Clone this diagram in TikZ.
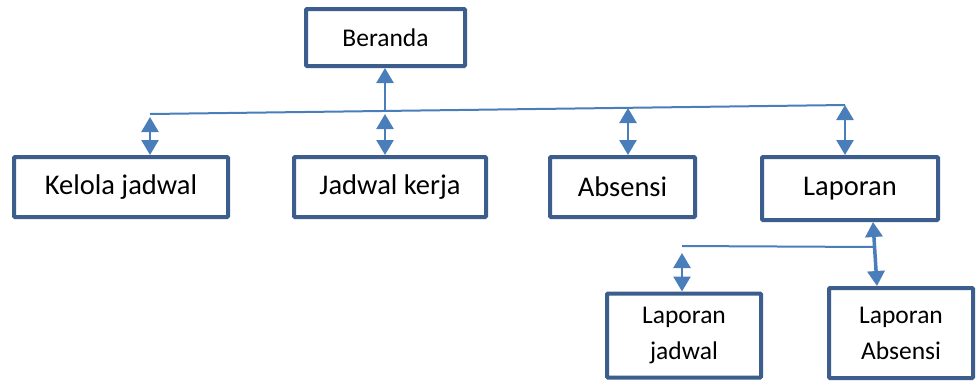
\documentclass[tikz,border=0pt]{standalone}
\usepackage{fontspec}
\setmainfont{Carlito}
\usetikzlibrary{arrows.meta,calc}
\definecolor{kotak}{HTML}{3B5E8C}
\definecolor{panah}{HTML}{4A7EBB}
\tikzset{
  kotak/.style={draw=kotak, line width=4pt, rounded corners=1pt, fill=white, align=center, inner sep=0pt},
  besar/.style={font=\fontsize{28.5}{34}\selectfont},
  kecil/.style={font=\fontsize{25.5}{36}\selectfont},
  garis/.style={draw=panah, line width=2pt},
  ujung/.tip={Triangle[width=17pt,length=15pt]},
  dua/.style={draw=panah, line width=2.5pt, ujung-ujung},
}
\begin{document}
\begin{tikzpicture}[x=1pt,y=-1pt]
  \useasboundingbox (0,0) rectangle (977,381);
  %kotak menu
  \node[kotak,kecil,minimum width=159pt,minimum height=57pt] (beranda) at (385.5,37.5) {Beranda};
  \node[kotak,besar,minimum width=214pt,minimum height=60pt] (kelola) at (121,187) {Kelola jadwal};
  \node[kotak,besar,minimum width=192pt,minimum height=60pt] (jadwalkerja) at (390,187) {Jadwal kerja};
  \node[kotak,besar,minimum width=145pt,minimum height=60pt] (absensi) at (622.5,187) {Absensi};
  \node[kotak,besar,minimum width=176pt,minimum height=63pt] (laporan) at (850,188.5) {Laporan};
  \node[kotak,kecil,minimum width=154pt,minimum height=84pt] (lapjadwal) at (684,335.5) {Laporan\\jadwal};
  \node[kotak,kecil,minimum width=144pt,minimum height=90pt] (lapabsensi) at (901,333) {Laporan\\Absensi};
  %garis
  \coordinate (k) at (150,114);
  \coordinate (b) at (385,111);
  \coordinate (a) at (628,108);
  \coordinate (l) at (845,105);
  \draw[garis] (k) -- (l);
  \draw[dua,-ujung] (b) -- (b |- beranda.south);
  \draw[dua] ([yshift=-3pt]b) -- (b |- jadwalkerja.north);
  \draw[dua] ([yshift=-3pt]k) -- (k |- kelola.north);
  \draw[dua] (a) -- (a |- absensi.north);
  \draw[dua] (l) -- (l |- laporan.north);
  %sub laporan
  \coordinate (s) at (682,246);
  \coordinate (sr) at (874.5,247);
  \draw[garis] (s) -- (sr);
  \draw[dua,line width=3.5pt] ($(laporan.south)+(23,0)$) -- ($(lapabsensi.north)+(-24,0)$);
  \draw[dua] ([yshift=-7pt]s) -- (s |- lapjadwal.north);
\end{tikzpicture}
\end{document}
